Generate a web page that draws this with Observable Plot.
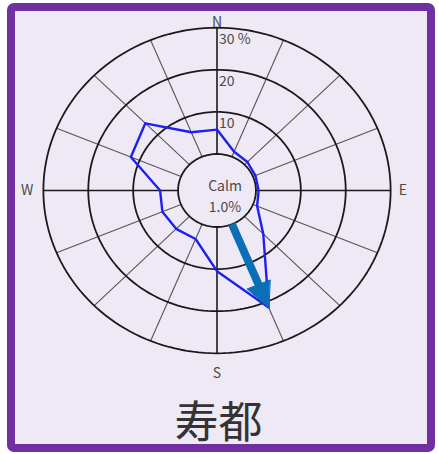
<!DOCTYPE html>
<html>
<head>
<meta charset="utf-8">
<script src="https://cdn.jsdelivr.net/npm/d3@7"></script>
<script src="https://cdn.jsdelivr.net/npm/@observablehq/plot@0.6"></script>
<style>
  html, body { margin: 0; padding: 0; background: #ffffff; }
  body { width: 439px; height: 454px; position: relative; overflow: hidden; }
  #frame {
    position: absolute; left: 7px; top: 3px; width: 428px; height: 449px;
    box-sizing: border-box; border: 8.5px solid #7030a0; border-radius: 7px;
    background: #efe9f5;
  }
  #chart { position: absolute; left: 0; top: 0; width: 439px; }
  #chart svg { display: block; background: transparent; }
  #title {
    width: 437px; text-align: center; height: 58px; line-height: 58px;
    font-family: "Noto Sans CJK JP", "Noto Sans", sans-serif; font-size: 44px;
    color: #333; font-weight: 400;
  }
</style>
</head>
<body>
<div id="frame"></div>
<div id="chart"></div>
<script>
// ---- data ----
const directions = ["N","NNE","NE","ENE","E","ESE","SE","SSE","S","SSW","SW","WSW","W","WNW","NW","NNW"];
const frequencies = [5.8, 1.3, 0.9, 0.6, 0.6, 1.0, 5.9, 21.4, 10.5, 3.8, 4.2, 4.5, 4.0, 12.1, 13.9, 6.3];
const calmPercent = 1.0;
const ringValues = [10, 20, 30];
const ringLabels = ["10", "20", "30 %"];
const compassLabels = ["N", "E", "S", "W"];
const stationName = "寿都";

// ---- layout ----
const calmR = 8.67;          // radius of calm circle in % units
const D = 40;
const kx = 4.49, ky = 4.21, cx = 216.5, cy = 190;
const font = '"Noto Sans CJK JP", "Noto Sans", sans-serif';

const ang = i => i * Math.PI / 8;
const px = (r, a) => r * Math.sin(a);
const py = (r, a) => r * Math.cos(a);

// rings (calm + value rings)
const ringRadii = [calmR, ...ringValues.map(v => calmR + v)];
const ringPts = [];
ringRadii.forEach((r, k) => {
  for (let d = 0; d <= 360; d += 2) {
    const a = d * Math.PI / 180;
    ringPts.push({ring: k, x: px(r, a), y: py(r, a)});
  }
});

// spokes
const outerR = calmR + ringValues[ringValues.length - 1];
const spokes = directions.map((d, i) => ({
  dir: d, cardinal: i % 4 === 0,
  x1: px(calmR, ang(i)), y1: py(calmR, ang(i)),
  x2: px(outerR, ang(i)), y2: py(outerR, ang(i))
}));

// polygon
const poly = directions.map((d, i) => ({
  dir: d, x: px(calmR + frequencies[i], ang(i)), y: py(calmR + frequencies[i], ang(i))
}));

// arrow towards most frequent direction
const iMax = d3.maxIndex(frequencies);
const aMax = ang(iMax);
const tipR = calmR + frequencies[iMax];
const headLen = 5.9, headHalf = 2.75;
const vx = Math.cos(aMax), vy = -Math.sin(aMax);
const baseR = tipR - headLen;
const shaft = [{x1: px(calmR, aMax), y1: py(calmR, aMax), x2: px(baseR + 0.5, aMax), y2: py(baseR + 0.5, aMax)}];
const head = [
  {x: px(tipR, aMax), y: py(tipR, aMax)},
  {x: px(baseR, aMax) + vx * headHalf, y: py(baseR, aMax) + vy * headHalf},
  {x: px(baseR, aMax) - vx * headHalf, y: py(baseR, aMax) - vy * headHalf}
];

const arrowColor = "#0b6fb6";
const polyColor = "#1f1ff2";
const labelColor = "#4a4a4a";

const plot = Plot.plot({
  width: 439,
  height: 390,
  margin: 0,
  style: {background: "transparent", fontFamily: font},
  x: {domain: [-D, D], range: [cx - D * kx, cx + D * kx], axis: null},
  y: {domain: [-D, D], range: [cy + D * ky, cy - D * ky], axis: null},
  marks: [
    Plot.link(spokes.filter(s => !s.cardinal), {x1: "x1", y1: "y1", x2: "x2", y2: "y2", stroke: "#555", strokeWidth: 1.1}),
    Plot.link(spokes.filter(s => s.cardinal), {x1: "x1", y1: "y1", x2: "x2", y2: "y2", stroke: "#1a1a1a", strokeWidth: 1.6}),
    Plot.line(ringPts, {x: "x", y: "y", z: "ring", stroke: "#1a1a1a", strokeWidth: 1.8}),
    Plot.line(poly, {x: "x", y: "y", stroke: polyColor, strokeWidth: 2.4, curve: "linear-closed"}),
    Plot.link(shaft, {x1: "x1", y1: "y1", x2: "x2", y2: "y2", stroke: arrowColor, strokeWidth: 8}),
    Plot.line(head, {x: "x", y: "y", fill: arrowColor, stroke: arrowColor, strokeWidth: 1, curve: "linear-closed"}),
    Plot.text(ringValues, {x: () => 0, y: v => calmR + v, text: (v, i) => ringLabels[i], textAnchor: "start", lineAnchor: "top", dx: 2, dy: 6, fontSize: 14, fill: labelColor}),
    Plot.text([compassLabels[0]], {x: () => 0, y: () => outerR, text: d => d, lineAnchor: "bottom", dy: -1, fontSize: 14, fill: labelColor}),
    Plot.text([compassLabels[2]], {x: () => 0, y: () => -outerR, text: d => d, lineAnchor: "top", dy: 15, fontSize: 14, fill: labelColor}),
    Plot.text([compassLabels[1]], {x: () => outerR, y: () => 0, text: d => d, textAnchor: "start", dx: 8, fontSize: 14, fill: labelColor}),
    Plot.text([compassLabels[3]], {x: () => -outerR, y: () => 0, text: d => d, textAnchor: "end", dx: -10, fontSize: 14, fill: labelColor}),
    Plot.text(["Calm"], {x: () => 0, y: () => 0, text: d => d, dx: 8, dy: -4, fontSize: 14, fill: labelColor}),
    Plot.text([calmPercent.toFixed(1) + "%"], {x: () => 0, y: () => 0, text: d => d, dx: 8, dy: 17, fontSize: 14, fill: labelColor})
  ]
});

const chart = document.getElementById("chart");
chart.appendChild(plot);
const t = document.createElement("div");
t.id = "title";
t.textContent = stationName;
chart.appendChild(t);
</script>
</body>
</html>
